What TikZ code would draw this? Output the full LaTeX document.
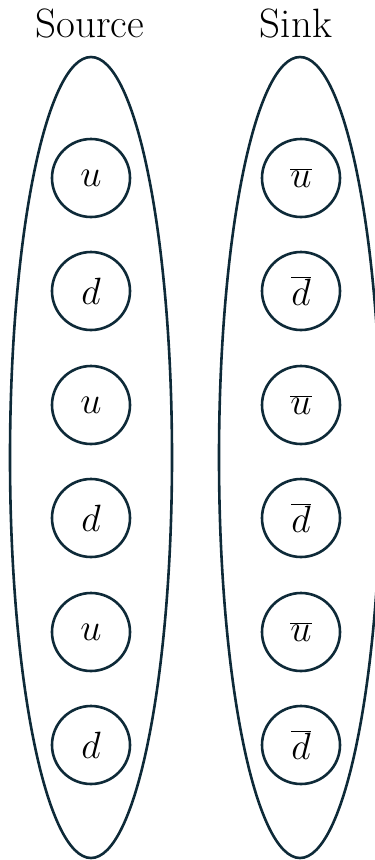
\documentclass[tikz,border=0pt]{standalone}
\usepackage{fix-cm}
\definecolor{ink}{HTML}{0E2A38}
\begin{document}
\begin{tikzpicture}[x=1pt,y=-1pt,
  grp/.style={draw=ink,line width=2.6pt},
  quark/.style={circle,draw=ink,line width=2.6pt,minimum size=78pt,inner sep=0pt,font=\fontsize{38}{44}\selectfont},
  title/.style={font=\fontsize{41}{48}\selectfont,anchor=base,inner sep=0pt}]
\useasboundingbox (0,0) rectangle (375,860);
\clip (0,0) rectangle (375,860);
\node[title] (src) at (90,37) {Source};
\node[title] (snk) at (296,37) {Sink};
\draw[grp] (91,457.5) ellipse [x radius=81, y radius=400.5];
\draw[grp] (300,457.5) ellipse [x radius=81, y radius=400.5];
\foreach \i/\y in {1/178,3/405,5/632} {
  \node[quark] (l\i) at (91,\y) {$u$};
  \node[quark] (r\i) at (301,\y) {$\overline{u}$};
}
\foreach \i/\y in {2/291,4/518,6/745} {
  \node[quark] (l\i) at (91,\y) {$d$};
  \node[quark] (r\i) at (301,\y) {$\overline{d}$};
}
\end{tikzpicture}
\end{document}
